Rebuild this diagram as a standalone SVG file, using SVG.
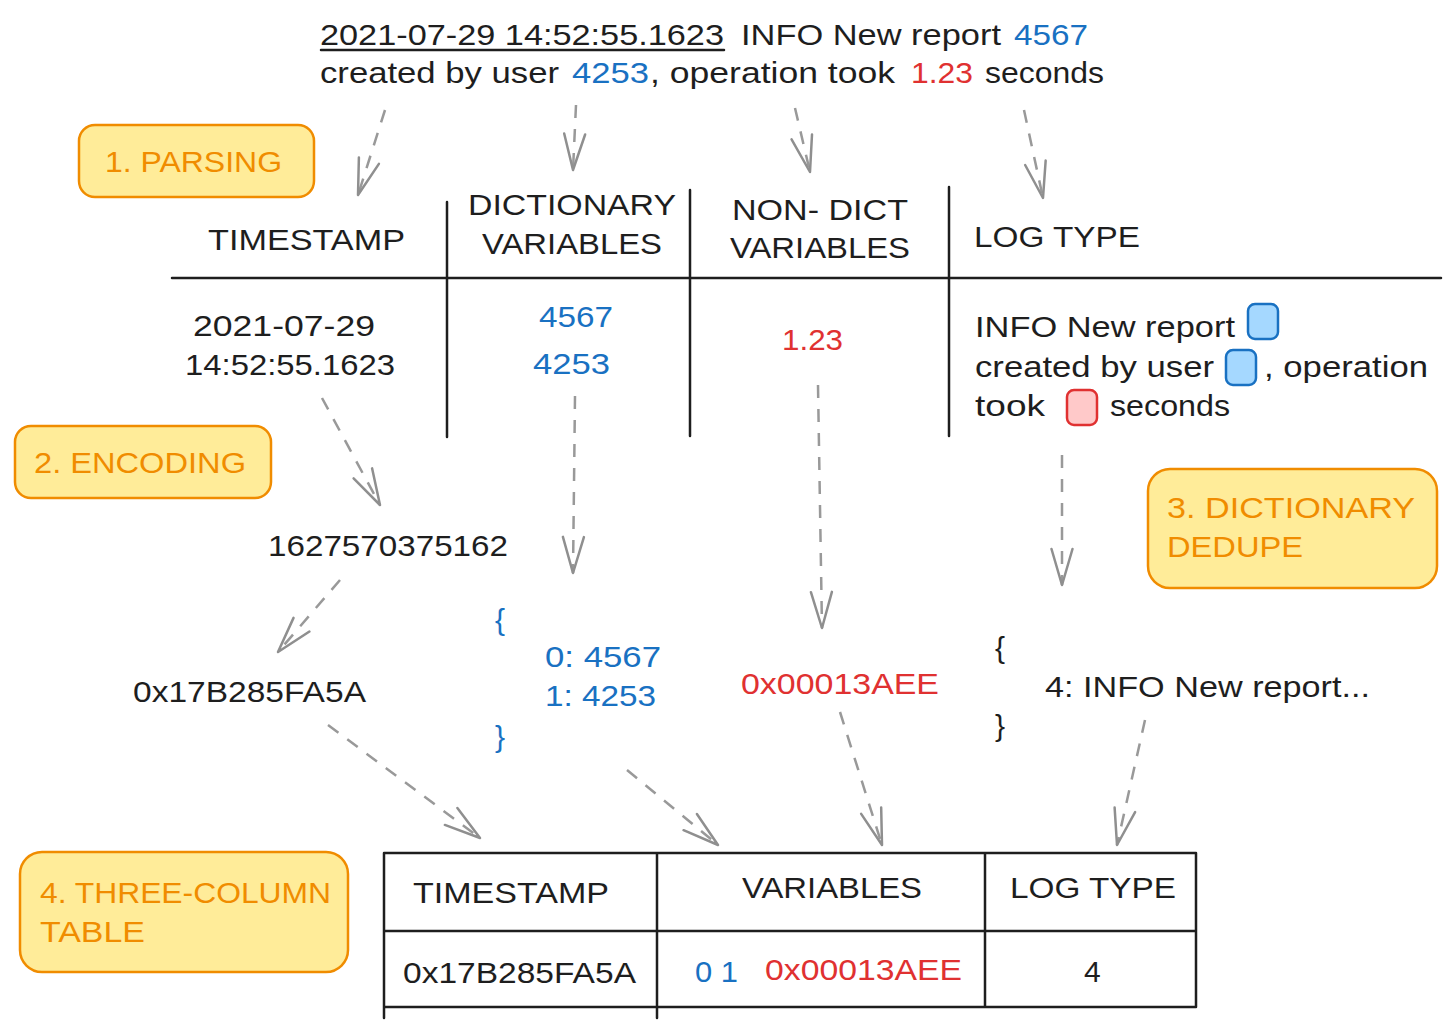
<svg xmlns="http://www.w3.org/2000/svg" width="1456" height="1033" viewBox="0 0 1456 1033">
<style>
text{font-family:"Liberation Sans","Noto Sans",sans-serif;font-size:30px;fill:#1e1e1e}
.b{fill:#1971c2}
.r{fill:#e03131}
.o{fill:#f08c00}
.lbl{fill:#ffec99;stroke:#f08c00;stroke-width:2.5}
.ln{stroke:#1e1e1e;stroke-width:2.5;fill:none;stroke-linecap:round}
.ar{stroke:#999;stroke-width:2.5;fill:none;stroke-dasharray:13 11;marker-end:url(#ah)}
.bb{fill:#a5d8ff;stroke:#1971c2;stroke-width:2.5}
.rb{fill:#ffc9c9;stroke:#e03131;stroke-width:2.5}
</style>
<defs>
<marker id="ah" markerUnits="userSpaceOnUse" markerWidth="45" markerHeight="30" viewBox="-40 -15 45 30" refX="0" refY="0" orient="auto">
<path d="M-36,-10.5 L0,0 L-36,10.5" fill="none" stroke="#8f8f8f" stroke-width="2.5" stroke-linecap="round" stroke-linejoin="round"/>
</marker>
</defs>
<rect width="1456" height="1033" fill="#fff"/>

<g id="log-line">
<text x="320" y="45" textLength="404" lengthAdjust="spacingAndGlyphs">2021-07-29 14:52:55.1623</text>
<text x="741" y="45" textLength="260" lengthAdjust="spacingAndGlyphs">INFO New report</text>
<text class="b" x="1014" y="45" textLength="74" lengthAdjust="spacingAndGlyphs">4567</text>
<text x="320" y="83" textLength="239" lengthAdjust="spacingAndGlyphs">created by user</text>
<text class="b" x="572" y="83" textLength="77" lengthAdjust="spacingAndGlyphs">4253</text>
<text x="650" y="83" textLength="245" lengthAdjust="spacingAndGlyphs">, operation took</text>
<text class="r" x="911" y="83" textLength="62" lengthAdjust="spacingAndGlyphs">1.23</text>
<text x="985" y="83" textLength="119" lengthAdjust="spacingAndGlyphs">seconds</text>
<path class="ln" d="M321,50 L724,50"/>
</g>

<g id="label-parsing">
<rect class="lbl" x="79" y="125" width="235" height="72" rx="16"/>
<text class="o" x="105" y="172" textLength="177" lengthAdjust="spacingAndGlyphs">1. PARSING</text>
</g>
<g id="label-encoding">
<rect class="lbl" x="15" y="426" width="256" height="72" rx="16"/>
<text class="o" x="34" y="473" textLength="212" lengthAdjust="spacingAndGlyphs">2. ENCODING</text>
</g>
<g id="label-dedupe">
<rect class="lbl" x="1148" y="469" width="289" height="119" rx="22"/>
<text class="o" x="1167" y="518" textLength="248" lengthAdjust="spacingAndGlyphs">3. DICTIONARY</text>
<text class="o" x="1167" y="557" textLength="136" lengthAdjust="spacingAndGlyphs">DEDUPE</text>
</g>
<g id="label-table">
<rect class="lbl" x="20" y="852" width="328" height="120" rx="22"/>
<text class="o" x="40" y="903" textLength="291" lengthAdjust="spacingAndGlyphs">4. THREE-COLUMN</text>
<text class="o" x="40" y="942" textLength="105" lengthAdjust="spacingAndGlyphs">TABLE</text>
</g>

<g id="parse-table">
<path class="ln" d="M172,278 L1441,278 M447,202 L447,437 M690,190 L690,436 M949,187 L949,436"/>
<text x="208" y="250" textLength="197" lengthAdjust="spacingAndGlyphs">TIMESTAMP</text>
<text x="468" y="215" textLength="208" lengthAdjust="spacingAndGlyphs">DICTIONARY</text>
<text x="482" y="254" textLength="180" lengthAdjust="spacingAndGlyphs">VARIABLES</text>
<text x="732" y="220" textLength="176" lengthAdjust="spacingAndGlyphs">NON- DICT</text>
<text x="730" y="258" textLength="180" lengthAdjust="spacingAndGlyphs">VARIABLES</text>
<text x="974" y="247" textLength="166" lengthAdjust="spacingAndGlyphs">LOG TYPE</text>
<text x="193" y="336" textLength="182" lengthAdjust="spacingAndGlyphs">2021-07-29</text>
<text x="185" y="375" textLength="210" lengthAdjust="spacingAndGlyphs">14:52:55.1623</text>
<text class="b" x="539" y="327" textLength="74" lengthAdjust="spacingAndGlyphs">4567</text>
<text class="b" x="533" y="374" textLength="77" lengthAdjust="spacingAndGlyphs">4253</text>
<text class="r" x="782" y="350" textLength="61" lengthAdjust="spacingAndGlyphs">1.23</text>
<text x="975" y="337" textLength="260" lengthAdjust="spacingAndGlyphs">INFO New report</text>
<rect class="bb" x="1248" y="304" width="30" height="35" rx="7"/>
<text x="975" y="377" textLength="239" lengthAdjust="spacingAndGlyphs">created by user</text>
<rect class="bb" x="1226" y="350" width="30" height="35" rx="7"/>
<text x="1264" y="377" textLength="164" lengthAdjust="spacingAndGlyphs">, operation</text>
<text x="975" y="416" textLength="70" lengthAdjust="spacingAndGlyphs">took</text>
<rect class="rb" x="1067" y="390" width="30" height="35" rx="7"/>
<text x="1110" y="416" textLength="120" lengthAdjust="spacingAndGlyphs">seconds</text>
</g>

<g id="epoch">
<text x="268" y="556" textLength="240" lengthAdjust="spacingAndGlyphs">1627570375162</text>
</g>
<g id="hex-timestamp">
<text x="133" y="702" textLength="233" lengthAdjust="spacingAndGlyphs">0x17B285FA5A</text>
</g>
<g id="var-dict">
<text class="b" x="495" y="630">{</text>
<text class="b" x="545" y="667" textLength="116" lengthAdjust="spacingAndGlyphs">0: 4567</text>
<text class="b" x="545" y="706" textLength="111" lengthAdjust="spacingAndGlyphs">1: 4253</text>
<text class="b" x="495" y="747">}</text>
</g>
<g id="hex-nondict">
<text class="r" x="741" y="694" textLength="198" lengthAdjust="spacingAndGlyphs">0x00013AEE</text>
</g>
<g id="logtype-dict">
<text x="995" y="658">{</text>
<text x="1045" y="697" textLength="325" lengthAdjust="spacingAndGlyphs">4: INFO New report...</text>
<text x="995" y="736">}</text>
</g>

<g id="result-table">
<path class="ln" d="M384,853 L1196,853 M384,931 L1196,931 M384,1007 L1196,1007 M384,853 L384,1018 M657,853 L657,1018 M985,853 L985,1007 M1196,853 L1196,1007"/>
<text x="413" y="903" textLength="196" lengthAdjust="spacingAndGlyphs">TIMESTAMP</text>
<text x="742" y="898" textLength="180" lengthAdjust="spacingAndGlyphs">VARIABLES</text>
<text x="1010" y="898" textLength="166" lengthAdjust="spacingAndGlyphs">LOG TYPE</text>
<text x="403" y="983" textLength="233" lengthAdjust="spacingAndGlyphs">0x17B285FA5A</text>
<text class="b" x="695" y="982" textLength="43" lengthAdjust="spacingAndGlyphs">0 1</text>
<text class="r" x="765" y="980" textLength="197" lengthAdjust="spacingAndGlyphs">0x00013AEE</text>
<text x="1084" y="982">4</text>
</g>

<g id="connectors">
<path class="ar" d="M385,110 L358,195"/>
<path class="ar" d="M576,105 L573,170"/>
<path class="ar" d="M795,108 L810,172"/>
<path class="ar" d="M1024,110 L1043,198"/>
<path class="ar" d="M322,398 L380,505"/>
<path class="ar" d="M575,396 L573,573"/>
<path class="ar" d="M818,385 L822,628"/>
<path class="ar" d="M1062,455 L1062,585"/>
<path class="ar" d="M340,580 L278,652"/>
<path class="ar" d="M328,725 L480,838"/>
<path class="ar" d="M627,770 L718,845"/>
<path class="ar" d="M840,712 L882,845"/>
<path class="ar" d="M1145,720 L1117,845"/>
</g>
</svg>
